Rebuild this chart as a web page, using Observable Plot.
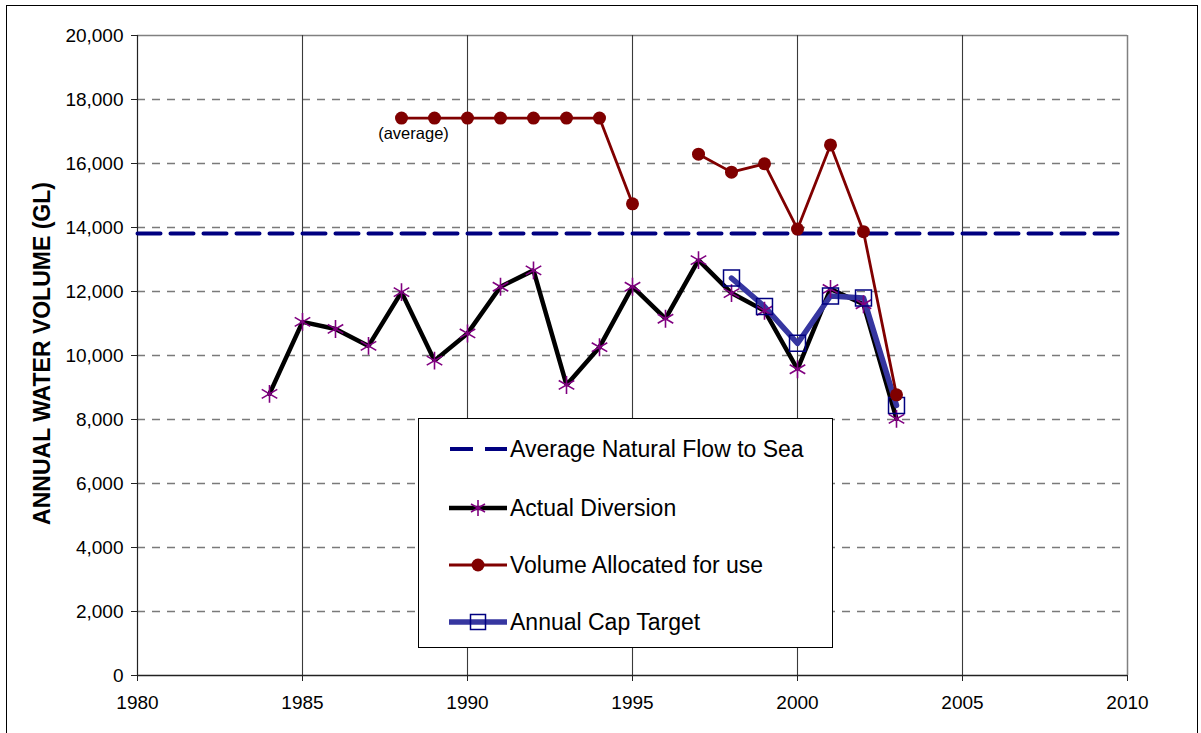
<!DOCTYPE html>
<html>
<head>
<meta charset="utf-8">
<script src="https://cdn.jsdelivr.net/npm/d3@7"></script>
<script src="https://cdn.jsdelivr.net/npm/@observablehq/plot@0.6"></script>
<style>
  html, body { margin: 0; padding: 0; background: #fff; }
  #wrap { position: relative; width: 1201px; height: 733px; overflow: hidden; font-family: "Liberation Sans", Arial, sans-serif; }
  #frame { position: absolute; left: 6px; top: 5px; width: 1190px; height: 760px; border: 1.5px solid #000; pointer-events: none; }
  #legend { position: absolute; left: 418px; top: 418px; width: 415px; height: 230px; border: 1.5px solid #000; background: #fff; box-sizing: border-box; }
  .row { position: absolute; left: 0; height: 40px; width: 100%; }
  .row svg { position: absolute; left: 28px; top: 0; }
  .row span { position: absolute; left: 91px; top: 0; line-height: 40px; font-size: 23px; color: #000; white-space: nowrap; }
</style>
</head>
<body>
<div id="wrap">
  <div id="chart"></div>
  <div id="legend"></div>
  <div id="frame"></div>
</div>
<script>
// ---- Data ----
const years = [1984, 1985, 1986, 1987, 1988, 1989, 1990, 1991, 1992, 1993, 1994, 1995, 1996, 1997, 1998, 1999, 2000, 2001, 2002, 2003];
const actualDiversion = [8800, 11050, 10830, 10300, 11980, 9840, 10690, 12150, 12660, 9080, 10260, 12150, 11150, 12980, 11950, 11400, 9570, 12080, 11600, 8020];

const allocYears = [1988, 1989, 1990, 1991, 1992, 1993, 1994, 1995, 1996, 1997, 1998, 1999, 2000, 2001, 2002, 2003];
const volumeAllocated = [17420, 17420, 17420, 17420, 17420, 17420, 17420, 14740, NaN, 16290, 15730, 15990, 13950, 16580, 13870, 8770];

const capYears = [1998, 1999, 2000, 2001, 2002, 2003];
const capTarget = [12420, 11530, 10380, 11860, 11800, 8440];

const naturalFlow = 13810;
const flowRange = [1980, 2010];

const xTicks = [1980, 1985, 1990, 1995, 2000, 2005, 2010];
const xGrid = [1985, 1990, 1995, 2000, 2005];
const yTicks = [0, 2000, 4000, 6000, 8000, 10000, 12000, 14000, 16000, 18000, 20000];
const yGrid = [2000, 4000, 6000, 8000, 10000, 12000, 14000, 16000, 18000];

const yTitle = "ANNUAL WATER VOLUME (GL)";
const note = "(average)";

const seriesNames = ["Average Natural Flow to Sea", "Actual Diversion", "Volume Allocated for use", "Annual Cap Target"];

// ---- Tables ----
const diversion = years.map((y, i) => ({year: y, value: actualDiversion[i]}));
const allocated = allocYears.map((y, i) => ({year: y, value: volumeAllocated[i]}));
const cap = capYears.map((y, i) => ({year: y, value: capTarget[i]}));
const flow = flowRange.map(y => ({year: y, value: naturalFlow}));

const fontFamily = '"Liberation Sans", Arial, sans-serif';

const chart = Plot.plot({
  width: 1201,
  height: 733,
  marginLeft: 137,
  marginRight: 74,
  marginTop: 35,
  marginBottom: 58,
  style: {fontFamily, fontSize: "19px", background: "transparent", color: "#000"},
  x: {domain: [1980, 2010], ticks: xTicks, tickFormat: d => String(d)},
  y: {domain: [0, 20000], ticks: yTicks, tickFormat: d3.format(",")},
  marks: [
    // grid
    Plot.ruleY(yGrid, {stroke: "#7a7a7a", strokeWidth: 1.4, strokeDasharray: "8,7"}),
    Plot.ruleY([20000], {stroke: "#808080", strokeWidth: 1.5}),
    Plot.ruleX(xGrid, {stroke: "#3a3a3a", strokeWidth: 1.1}),
    Plot.ruleX([2010], {stroke: "#808080", strokeWidth: 1.5}),
    Plot.ruleX([1980], {stroke: "#222", strokeWidth: 1.2}),
    Plot.ruleY([0], {stroke: "#222", strokeWidth: 1.5}),
    // axes
    Plot.axisY({ticks: yTicks, tickFormat: d3.format(","), tickSize: 6, tickPadding: 8, fontSize: 19, label: null, stroke: "#222"}),
    Plot.axisX({ticks: xTicks, tickFormat: d => String(d), tickSize: 6, tickPadding: 14, fontSize: 19, label: null, stroke: "#222"}),
    Plot.text([yTitle], {frameAnchor: "left", dx: -95, dy: -2, rotate: -90, text: d => d, fontSize: 23, fontWeight: "bold", textAnchor: "middle", fill: "#000"}),
    // series
    Plot.line(flow, {x: "year", y: "value", stroke: "#000080", strokeWidth: 4, strokeDasharray: "23,10"}),
    Plot.line(diversion, {x: "year", y: "value", stroke: "#000", strokeWidth: 4.5, strokeLinejoin: "miter"}),
    Plot.line(cap, {x: "year", y: "value", stroke: "#3636a0", strokeWidth: 5.5}),
    Plot.dot(diversion, {x: "year", y: "value", symbol: "asterisk", r: 8.5, stroke: "#800080", strokeWidth: 1.6}),
    Plot.dot(cap, {x: "year", y: "value", symbol: "square", r: 9, stroke: "#000080", fill: "none", strokeWidth: 1.5}),
    Plot.line(allocated, {x: "year", y: "value", stroke: "#800000", strokeWidth: 2.8}),
    Plot.dot(allocated.filter(d => !isNaN(d.value)), {x: "year", y: "value", r: 6.5, fill: "#800000", stroke: "none"}),
    Plot.text([allocated[0]], {x: "year", y: "value", text: () => note, dx: 12, dy: 16, fontSize: 16.5, fill: "#000"})
  ]
});
document.getElementById("chart").appendChild(chart);

// ---- Legend ----
const swatches = [
  `<svg width="62" height="40"><line x1="3" x2="60" y1="20" y2="20" stroke="#000080" stroke-width="4" stroke-dasharray="23,12"/></svg>`,
  `<svg width="62" height="40"><line x1="2" x2="60" y1="20" y2="20" stroke="#000" stroke-width="4.5"/><g stroke="#800080" stroke-width="1.6" transform="translate(31,20)"><line x1="0" y1="-8" x2="0" y2="8"/><line x1="-7" y1="-4" x2="7" y2="4"/><line x1="-7" y1="4" x2="7" y2="-4"/></g></svg>`,
  `<svg width="62" height="40"><line x1="2" x2="60" y1="20" y2="20" stroke="#800000" stroke-width="2.8"/><circle cx="31" cy="20" r="6.5" fill="#800000"/></svg>`,
  `<svg width="62" height="40"><line x1="2" x2="60" y1="20" y2="20" stroke="#3636a0" stroke-width="5.5"/><rect x="23.5" y="12.5" width="15" height="15" fill="none" stroke="#000080" stroke-width="1.5"/></svg>`
];
const rowCenters = [30, 89, 146, 203];
const legend = document.getElementById("legend");
seriesNames.forEach((name, i) => {
  const row = document.createElement("div");
  row.className = "row";
  row.style.top = (rowCenters[i] - 20) + "px";
  row.innerHTML = swatches[i] + `<span>${name}</span>`;
  legend.appendChild(row);
});
</script>
</body>
</html>
